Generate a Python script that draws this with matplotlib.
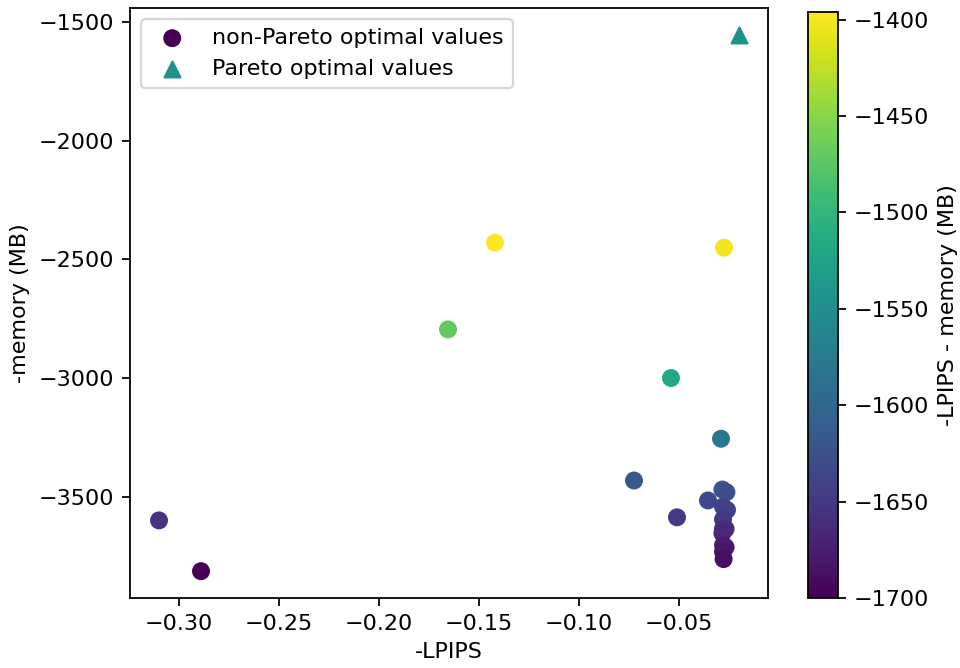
import matplotlib
matplotlib.use("Agg")
import matplotlib.pyplot as plt
import numpy as np

# non-Pareto points
lpips = [-0.289, -0.142, -0.0275, -0.1655, -0.054, -0.029, -0.0725, -0.0283, -0.0263,
         -0.0355, -0.028, -0.026, -0.051, -0.310, -0.028, -0.028, -0.0267, -0.0283,
         -0.028, -0.0267, -0.028, -0.0277]
memory = [-3814, -2430, -2451, -2795, -3000, -3256, -3432, -3470, -3481,
          -3516, -3542, -3556, -3587, -3600, -3596, -3635, -3636, -3654,
          -3704, -3713, -3732, -3763]
score = [-1700, -1396, -1401, -1470, -1518, -1578, -1617, -1624, -1627,
         -1634, -1640, -1643, -1650, -1656, -1649, -1660, -1661, -1665,
         -1676, -1678, -1682, -1689]

# Pareto points
pareto_lpips = [-0.020]
pareto_memory = [-1554]

DPI = 160
fig = plt.figure(figsize=(960/DPI, 668/DPI), dpi=DPI)
ax = fig.add_axes([130/960, 1-598/668, (768-130)/960, (598-8)/668])
cax = fig.add_axes([808/960, 1-598/668, (838-808)/960, (598-12)/668])

sc = ax.scatter(lpips, memory, c=score, cmap='viridis', s=50,
                label='non-Pareto optimal values')
ax.scatter(pareto_lpips, pareto_memory, c=[plt.cm.viridis(0.5)], marker='^', s=50,
           label='Pareto optimal values')
ax.set_xlabel('-LPIPS')
ax.set_ylabel('-memory (MB)')
ax.legend(loc='upper left')
cb = fig.colorbar(sc, cax=cax)
cb.set_label('-LPIPS - memory (MB)')
fig.savefig('out.png', dpi=DPI)
